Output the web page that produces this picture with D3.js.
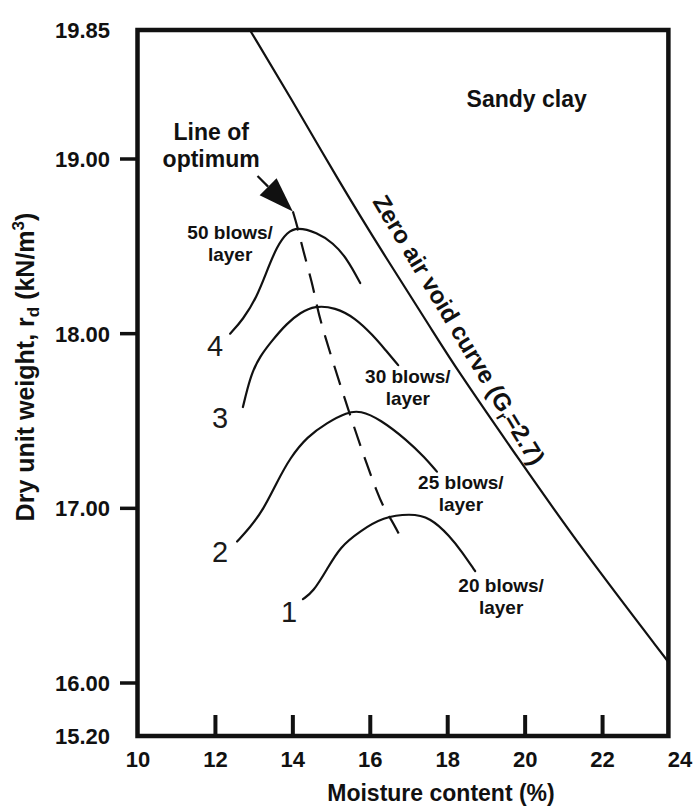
<!DOCTYPE html>
<html>
<head>
<meta charset="utf-8">
<script src="https://cdn.jsdelivr.net/npm/d3@7"></script>
<style>
  html, body { margin: 0; padding: 0; background: #fff; }
  svg { display: block; font-family: "Liberation Sans", Arial, sans-serif; }
</style>
</head>
<body>
<svg id="chart" width="695" height="806"></svg>
<script>
// ---- Axis ticks -------------------------------------------------------
const xTickValues = [10, 12, 14, 16, 18, 20, 22, 24];
const xTickMarks = [12, 14, 16, 18, 20, 22];
const yTickValues = [15.2, 16, 17, 18, 19, 19.85];
const yTickLabels = ["15.20", "16.00", "17.00", "18.00", "19.00", "19.85"];
const yTickMarks = [16, 17, 18, 19];

// ---- Compaction curves: [moisture content %, dry unit weight kN/m3] ----
const curve50 = [[12.38, 18.00], [12.71, 18.08], [13.07, 18.21], [13.33, 18.36], [13.59, 18.50],
  [13.85, 18.58], [14.11, 18.61], [14.62, 18.58], [15.04, 18.52], [15.40, 18.43], [15.74, 18.29]];
const curve30 = [[12.71, 17.58], [12.82, 17.68], [12.95, 17.78], [13.15, 17.87], [13.46, 17.96],
  [13.85, 18.06], [14.19, 18.12], [14.57, 18.16], [15.09, 18.15], [15.61, 18.09], [16.07, 17.99],
  [16.38, 17.91], [16.72, 17.82]];
const curve25 = [[12.56, 16.81], [12.89, 16.89], [13.23, 16.99], [13.59, 17.15], [13.93, 17.29],
  [14.37, 17.41], [14.88, 17.49], [15.40, 17.55], [15.74, 17.56], [16.25, 17.51], [16.95, 17.39],
  [17.41, 17.29], [17.72, 17.21]];
const curve20 = [[14.26, 16.48], [14.52, 16.52], [14.88, 16.65], [15.22, 16.78], [15.74, 16.87],
  [16.33, 16.95], [17.03, 16.97], [17.54, 16.95], [18.06, 16.84], [18.37, 16.75], [18.71, 16.64]];

// Line of optimum through the peaks
const optimumLine = [[14.00, 18.70], [14.11, 18.62], [14.26, 18.48], [14.50, 18.29], [14.62, 18.16],
  [14.75, 18.04], [15.40, 17.58], [16.25, 17.03], [16.51, 16.95], [16.77, 16.84]];

// Zero air void curve (Gs = 2.7)
const zeroAirVoid = [[12.89, 19.85], [13.93, 19.41], [15.17, 18.88], [16.33, 18.46], [17.60, 18.02],
  [18.19, 17.81], [19.87, 17.27], [21.42, 16.78], [23.70, 16.12]];

// Curve numbers and blow counts
const curveNumbers = [
  { text: "4", x: 11.99, y: 17.87 },
  { text: "3", x: 12.12, y: 17.46 },
  { text: "2", x: 12.12, y: 16.69 },
  { text: "1", x: 13.90, y: 16.35 }
];
const blowLabels = [
  { text: "50 blows/", x: 12.38, y: 18.54 },
  { text: "30 blows/", x: 16.97, y: 17.72 },
  { text: "25 blows/", x: 18.34, y: 17.11 },
  { text: "20 blows/", x: 19.38, y: 16.52 }
];

// ---- Scales ------------------------------------------------------------
const frameRight = 23.70;   // plot box ends just short of 24
const x = d3.scaleLinear().domain([10, 24]).range([138, 680]);
const y = d3.scaleLinear().domain([15.2, 16, 19, 19.85]).range([736, 683, 159, 30]);

const svg = d3.select("#chart");
const ink = "#111";

// ---- Plot frame ----------------------------------------------------------
svg.append("rect")
  .attr("x", x(10) - 0.5).attr("y", y(19.85))
  .attr("width", x(frameRight) - x(10) + 0.5)
  .attr("height", y(15.2) - y(19.85))
  .attr("fill", "none").attr("stroke", ink).attr("stroke-width", 4.5);

// x ticks point inward from the bottom edge
svg.append("g").selectAll("line").data(xTickMarks).join("line")
  .attr("x1", d => x(d)).attr("x2", d => x(d))
  .attr("y1", y(15.2)).attr("y2", y(15.2) - 21)
  .attr("stroke", ink).attr("stroke-width", 4);

svg.append("g").selectAll("text").data(xTickValues).join("text")
  .attr("x", d => x(d)).attr("y", 767)
  .attr("text-anchor", "middle")
  .attr("font-size", 22).attr("font-weight", "bold").attr("fill", ink)
  .text(d => d);

// y ticks point outward from the left edge
svg.append("g").selectAll("line").data(yTickMarks).join("line")
  .attr("x1", x(10) - 18).attr("x2", x(10))
  .attr("y1", d => y(d)).attr("y2", d => y(d))
  .attr("stroke", ink).attr("stroke-width", 3.5);

svg.append("g").selectAll("text").data(yTickValues).join("text")
  .attr("x", 110).attr("y", d => y(d))
  .attr("dy", "0.36em")
  .attr("text-anchor", "end")
  .attr("font-size", 22).attr("font-weight", "bold").attr("fill", ink)
  .text((d, i) => yTickLabels[i]);

// ---- Axis titles -------------------------------------------------------
svg.append("text")
  .attr("x", 441).attr("y", 801)
  .attr("text-anchor", "middle")
  .attr("font-size", 23).attr("font-weight", "bold").attr("fill", ink)
  .text("Moisture content (%)");

const yTitle = svg.append("text")
  .attr("transform", "translate(34,367) rotate(-90)")
  .attr("text-anchor", "middle")
  .attr("font-size", 25).attr("font-weight", "bold").attr("fill", ink);
yTitle.append("tspan").text("Dry unit weight, r");
yTitle.append("tspan").attr("font-size", 17).attr("dy", 5).text("d");
yTitle.append("tspan").attr("dy", -5).text(" (kN/m");
yTitle.append("tspan").attr("font-size", 17).attr("dy", -10).text("3");
yTitle.append("tspan").attr("dy", 10).text(")");

// ---- Curves ------------------------------------------------------------
const line = d3.line()
  .x(d => x(d[0])).y(d => y(d[1]))
  .curve(d3.curveBasis);

const plot = svg.append("g")
  .attr("fill", "none").attr("stroke", ink)
  .attr("stroke-linecap", "round").attr("stroke-linejoin", "round");

[curve50, curve30, curve25, curve20].forEach(c => {
  plot.append("path").attr("d", line(c)).attr("stroke-width", 2.2);
});

plot.append("path").attr("d", line(zeroAirVoid)).attr("stroke-width", 2.2);

plot.append("path").attr("d", line(optimumLine))
  .attr("stroke-width", 2.2)
  .attr("stroke-linecap", "butt")
  .attr("stroke-dasharray", "20,12");

// ---- Line-of-optimum arrow --------------------------------------------
const tip = [x(optimumLine[0][0]), y(optimumLine[0][1])];
const dir = [Math.SQRT1_2, Math.SQRT1_2];
const headLen = 35, halfW = 12, shaftLen = 15;
const base = [tip[0] - headLen * dir[0], tip[1] - headLen * dir[1]];
svg.append("path")
  .attr("d", `M${tip[0]},${tip[1]}L${base[0] + halfW * dir[1]},${base[1] - halfW * dir[0]}` +
             `L${base[0] - halfW * dir[1]},${base[1] + halfW * dir[0]}Z`)
  .attr("fill", ink);
svg.append("line")
  .attr("x1", base[0] - shaftLen * dir[0]).attr("y1", base[1] - shaftLen * dir[1])
  .attr("x2", base[0]).attr("y2", base[1])
  .attr("stroke", ink).attr("stroke-width", 2.2);

const optLabel = svg.append("text")
  .attr("x", x(11.89)).attr("y", y(19.125))
  .attr("text-anchor", "middle")
  .attr("font-size", 23).attr("font-weight", "bold").attr("fill", ink);
optLabel.append("tspan").attr("x", x(11.89)).text("Line of");
optLabel.append("tspan").attr("x", x(11.89)).attr("dy", 27).text("optimum");

// ---- Annotations -------------------------------------------------------
svg.append("text")
  .attr("x", x(20.04)).attr("y", y(19.343))
  .attr("text-anchor", "middle")
  .attr("font-size", 23).attr("font-weight", "bold").attr("fill", ink)
  .text("Sandy clay");

const zav = svg.append("text")
  .attr("transform", `translate(${x(16.045)},${y(18.757)}) rotate(59)`)
  .attr("font-size", 24).attr("font-weight", "bold").attr("fill", ink);
zav.append("tspan").text("Zero air void curve (G");
zav.append("tspan").attr("font-size", 16).attr("dy", 5).text("r");
zav.append("tspan").attr("dy", -5).text("=2.7)");

svg.append("g").selectAll("text").data(curveNumbers).join("text")
  .attr("x", d => x(d.x)).attr("y", d => y(d.y))
  .attr("text-anchor", "middle")
  .attr("font-size", 29).attr("fill", "#1a1a1a")
  .text(d => d.text);

const blows = svg.append("g").selectAll("text").data(blowLabels).join("text")
  .attr("text-anchor", "middle")
  .attr("font-size", 19).attr("font-weight", "bold").attr("fill", ink);
blows.append("tspan").attr("x", d => x(d.x)).attr("y", d => y(d.y)).text(d => d.text);
blows.append("tspan").attr("x", d => x(d.x)).attr("dy", 22).text("layer");
</script>
</body>
</html>
